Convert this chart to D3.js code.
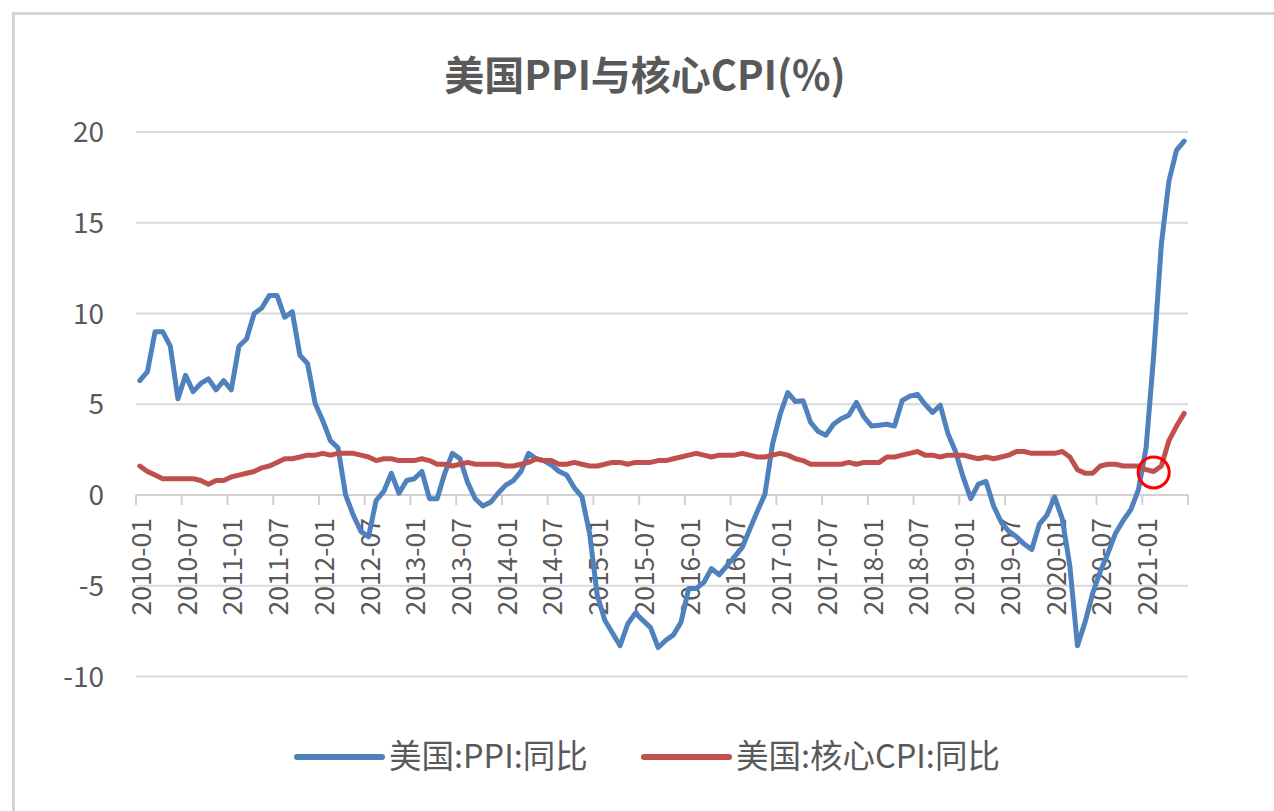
<!DOCTYPE html>
<html><head><meta charset="utf-8">
<script src="https://cdn.jsdelivr.net/npm/d3@7"></script>
<style>
html,body{margin:0;padding:0;background:#fff;}
svg{display:block;}
text{font-family:"Noto Sans CJK SC","Noto Sans",sans-serif;fill:#595959;}
</style></head>
<body>
<svg id="chart" width="1274" height="811"></svg>
<script>
// ---- data ----
const startYear = 2010, monthCount = 138;
const categories = [];
for (let i = 0; i < monthCount; i++) {
  const y = startYear + Math.floor(i / 12), m = (i % 12) + 1;
  categories.push(y + "-" + (m < 10 ? "0" + m : m));
}
const ppi = [
  6.3, 6.8, 9.0, 9.0, 8.2, 5.3, 6.6, 5.7, 6.15, 6.4, 5.8, 6.3,
  5.8, 8.2, 8.6, 10.0, 10.3, 11.0, 11.0, 9.8, 10.1, 7.7, 7.25, 5.05,
  4.1, 3.0, 2.6, 0.0, -1.1, -2.0, -2.3, -0.3, 0.2, 1.2, 0.1, 0.8,
  0.9, 1.3, -0.2, -0.2, 1.2, 2.3, 2.0, 0.7, -0.2, -0.6, -0.4, 0.1,
  0.55, 0.8, 1.3, 2.3, 2.0, 1.9, 1.65, 1.3, 1.1, 0.4, -0.1, -2.1,
  -5.5, -6.9, -7.6, -8.3, -7.1, -6.5, -6.9, -7.3, -8.4, -8.0, -7.7, -7.0,
  -5.15, -5.15, -4.8, -4.05, -4.4, -3.9, -3.4, -2.9, -1.9, -0.9, 0.05, 2.8,
  4.45, 5.65, 5.15, 5.2, 4.0, 3.5, 3.3, 3.9, 4.2, 4.4, 5.1, 4.3,
  3.8, 3.85, 3.9, 3.8, 5.2, 5.45, 5.55, 5.0, 4.55, 4.95, 3.4, 2.4,
  1.0, -0.2, 0.6, 0.75, -0.6, -1.5, -2.0, -2.3, -2.7, -3.0, -1.6, -1.1,
  -0.1, -1.3, -3.9, -8.3, -7.0, -5.4, -4.2, -3.2, -2.1, -1.4, -0.8, 0.3,
  2.6, 7.7, 13.8, 17.3, 19.0, 19.5
];
const coreCpi = [
  1.6, 1.3, 1.1, 0.9, 0.9, 0.9, 0.9, 0.9, 0.8, 0.6, 0.8, 0.8,
  1.0, 1.1, 1.2, 1.3, 1.5, 1.6, 1.8, 2.0, 2.0, 2.1, 2.2, 2.2,
  2.3, 2.2, 2.3, 2.3, 2.3, 2.2, 2.1, 1.9, 2.0, 2.0, 1.9, 1.9,
  1.9, 2.0, 1.9, 1.7, 1.7, 1.6, 1.7, 1.8, 1.7, 1.7, 1.7, 1.7,
  1.6, 1.6, 1.7, 1.8, 2.0, 1.9, 1.9, 1.7, 1.7, 1.8, 1.7, 1.6,
  1.6, 1.7, 1.8, 1.8, 1.7, 1.8, 1.8, 1.8, 1.9, 1.9, 2.0, 2.1,
  2.2, 2.3, 2.2, 2.1, 2.2, 2.2, 2.2, 2.3, 2.2, 2.1, 2.1, 2.2,
  2.3, 2.2, 2.0, 1.9, 1.7, 1.7, 1.7, 1.7, 1.7, 1.8, 1.7, 1.8,
  1.8, 1.8, 2.1, 2.1, 2.2, 2.3, 2.4, 2.2, 2.2, 2.1, 2.2, 2.2,
  2.2, 2.1, 2.0, 2.1, 2.0, 2.1, 2.2, 2.4, 2.4, 2.3, 2.3, 2.3,
  2.3, 2.4, 2.1, 1.4, 1.2, 1.2, 1.6, 1.7, 1.7, 1.6, 1.6, 1.6,
  1.4, 1.3, 1.6, 3.0, 3.8, 4.5
];
const yTicks = [-10, -5, 0, 5, 10, 15, 20];
const seriesNames = ["美国:PPI:同比", "美国:核心CPI:同比"];
const seriesColors = ["#4F81BD", "#C0504D"];
const titleText = "美国PPI与核心CPI(%)";
const labelEvery = 6;
const highlight = { category: "2021-02", value: 1.25 };

// ---- chart ----
const svg = d3.select("#chart");
const x = d3.scaleBand().domain(categories).range([136, 1188]).padding(0);
const y = d3.scaleLinear().domain([-10, 20]).range([676.6, 132]);
const cx = c => x(c) + x.bandwidth() / 2;

// frame
svg.append("path").attr("d", "M13.5,820 L13.5,13.5 L1290,13.5")
  .attr("fill", "none").attr("stroke", "#D4D4D4").attr("stroke-width", 3);

// title
svg.append("text").attr("x", 645).attr("y", 90).attr("text-anchor", "middle")
  .attr("font-size", 40).attr("font-weight", "bold").text(titleText);

// gridlines
svg.append("g").selectAll("line").data(yTicks.filter(d => d !== 0)).join("line")
  .attr("x1", 136).attr("x2", 1188)
  .attr("y1", d => y(d)).attr("y2", d => y(d))
  .attr("stroke", "#D9D9D9").attr("stroke-width", 2);

// y labels
svg.append("g").selectAll("text").data(yTicks).join("text")
  .attr("x", 104).attr("y", d => y(d) + 10)
  .attr("text-anchor", "end").attr("font-size", 28)
  .text(d => d);

// zero axis line + ticks
svg.append("line").attr("x1", 136).attr("x2", 1188)
  .attr("y1", y(0)).attr("y2", y(0))
  .attr("stroke", "#D0D0D0").attr("stroke-width", 2);
const tickPos = categories.filter((c, i) => i % labelEvery === 0).map(c => x(c));
tickPos.push(x.range()[1]);
svg.append("g").selectAll("line").data(tickPos).join("line")
  .attr("x1", d => d).attr("x2", d => d)
  .attr("y1", y(0)).attr("y2", y(0) + 10)
  .attr("stroke", "#D0D0D0").attr("stroke-width", 2);

// x labels (rotated)
svg.append("g").selectAll("text")
  .data(categories.filter((c, i) => i % labelEvery === 0)).join("text")
  .attr("transform", c => `translate(${cx(c) + 11},${y(0) + 23}) rotate(-90)`)
  .attr("text-anchor", "end").attr("font-size", 26.5)
  .text(c => c);

// lines
const line = d3.line().x((d, i) => cx(categories[i])).y(d => y(d));
[ppi, coreCpi].forEach((s, k) => {
  svg.append("path").datum(s).attr("d", line)
    .attr("fill", "none").attr("stroke", seriesColors[k])
    .attr("stroke-width", 5).attr("stroke-linejoin", "round").attr("stroke-linecap", "round");
});

// highlight circle
svg.append("circle").attr("cx", cx(highlight.category)).attr("cy", y(highlight.value))
  .attr("r", 15.5).attr("fill", "none").attr("stroke", "#FF0000").attr("stroke-width", 3);

// legend
const legendX = [297, 644];
const lg = svg.append("g");
seriesNames.forEach((n, k) => {
  lg.append("line").attr("x1", legendX[k]).attr("x2", legendX[k] + 85)
    .attr("y1", 757).attr("y2", 757)
    .attr("stroke", seriesColors[k]).attr("stroke-width", 6).attr("stroke-linecap", "round");
  lg.append("text").attr("x", legendX[k] + 92).attr("y", 768)
    .attr("font-size", 32.5).text(n);
});
</script>
</body></html>
